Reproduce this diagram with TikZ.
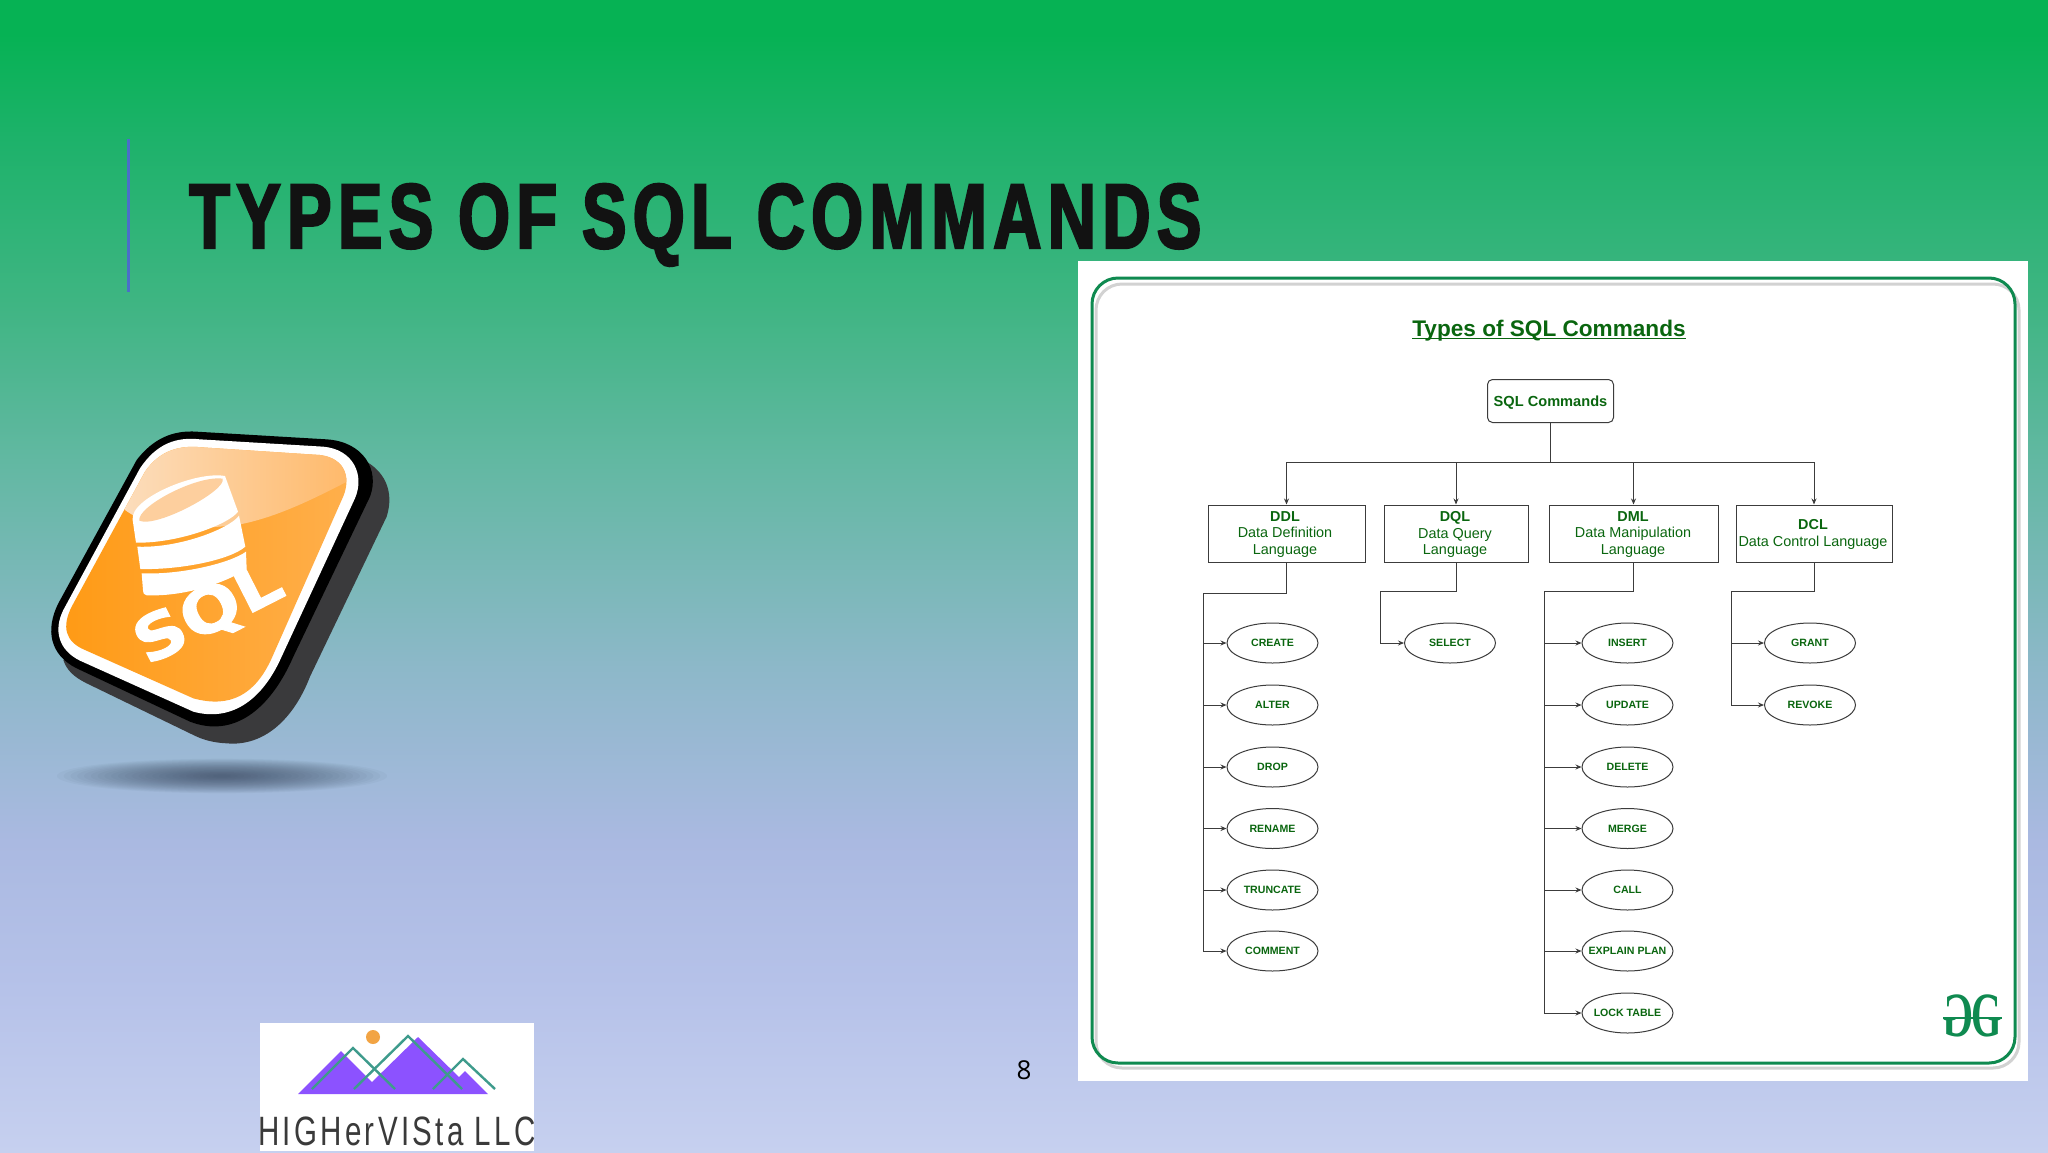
\documentclass[tikz,border=0pt]{standalone}
\usepackage{fontspec}
\setmainfont{Liberation Sans}
\usetikzlibrary{arrows.meta,shapes.geometric,calc}
\newfontfamily\slidetitle[FakeStretch=.725,LetterSpace=6.9,FakeBold=2.5]{Liberation Sans}
\newfontfamily\logofont[FakeStretch=.72,LetterSpace=8]{Liberation Sans}
\newfontfamily\gfgfont{Liberation Serif}
\newfontfamily\iconfont[FakeBold=1.5]{DejaVu Sans}
\newfontfamily\pagefont{Open Sans}
\definecolor{gfgtext}{HTML}{0A660F}
\definecolor{gfgframe}{HTML}{0F8A50}
\definecolor{linecol}{HTML}{3C3C3C}
\definecolor{c1}{HTML}{C6D0EF}
\definecolor{c1b}{HTML}{B6C2E9}
\definecolor{c2}{HTML}{AAB9E1}
\definecolor{c3}{HTML}{8DB8C9}
\definecolor{c4}{HTML}{62B8A2}
\definecolor{c5}{HTML}{3EB582}
\definecolor{c6}{HTML}{1DB26A}
\definecolor{c7}{HTML}{06B254}
\definecolor{accentfix}{HTML}{4A6FC8}
\definecolor{shadowcol}{HTML}{2E3B50}
\definecolor{iconback}{HTML}{3A3A3C}
\definecolor{iconleft}{HTML}{FF9A14}
\definecolor{iconright}{HTML}{FFB04E}
\definecolor{glossleft}{HTML}{FCDDBC}
\definecolor{glossright}{HTML}{FFB765}
\definecolor{glossmid}{HTML}{FDCF9E}
\definecolor{logopurple}{HTML}{8C52FF}
\definecolor{logoteal}{HTML}{3E9B8C}
\definecolor{logosun}{HTML}{F2A444}
\definecolor{logotext}{HTML}{3A3A3A}
\definecolor{framegrey}{HTML}{D2D2D2}
\pgfdeclareverticalshading{slidebg}{100bp}{
 color(0bp)=(c1);color(25bp)=(c1);color(32bp)=(c1b);color(38.5bp)=(c2);color(46bp)=(c3);color(55bp)=(c4);color(62bp)=(c5);color(69bp)=(c6);color(73.5bp)=(c7);color(100bp)=(c7)}
\newcommand{\fs}[1]{\fontsize{#1}{#1}\selectfont}
\newcommand{\ultext}[1]{\setbox0\hbox{#1}\rlap{\copy0}\raisebox{-3.2pt}{\rule{\wd0}{1.7pt}}}
\tikzset{
 conn/.style={draw=linecol,line width=1pt},
 arr/.style={conn,-{Stealth[length=6pt,width=5pt]}},
 catbox/.style={draw=linecol,line width=1pt,fill=white,text=gfgtext,align=center,inner sep=0pt,
   font=\fs{14.4}},
 oval/.style={ellipse,draw=linecol,line width=1pt,fill=white,minimum width=91pt,minimum height=40pt,inner xsep=-14pt,inner ysep=-4pt,
   text=gfgtext,font=\fs{10.6}\bfseries}
}
\begin{document}
\begin{tikzpicture}[x=1pt,y=-1pt]
\useasboundingbox (0,0) rectangle (2048,1152);
\path[shading=slidebg] (0,0) rectangle (2048,1152);
% accent rule and title
\fill[fill=accentfix] (126.5,139) rectangle (130,292);
\node[anchor=base west,inner sep=0pt,text=black!93] (slidetitle) at (189,248) {\slidetitle\fs{92}\bfseries TYPES OF SQL COMMANDS};
% icon shadow
\foreach \k in {1,...,24}{
  \fill[fill=shadowcol,opacity=.04] (222,776) ellipse ({172-6.8*\k} and {18-.7*\k});
}
% icon
\begin{scope}[shift={(30,400)},x=.33333pt,y=-.33333pt]
\fill[fill=iconback] (1000,180) .. controls (1060,210) and (1095,270) .. (1070,350)
  -- (840,830) .. controls (790,960) and (700,1040) .. (590,1030) .. controls (550,1028) and (520,1020) .. (490,1005)
  -- (170,850) .. controls (130,830) and (110,810) .. (100,780) -- cycle;
\fill[black] (500,95) -- (890,118) .. controls (1000,125) and (1050,210) .. (1020,290)
  -- (790,770) .. controls (720,930) and (610,1015) .. (480,965)
  -- (140,805) .. controls (60,765) and (45,690) .. (85,610)
  -- (320,180) .. controls (370,115) and (430,90) .. (500,95) -- cycle;
\fill[white] (510,118) -- (880,140) .. controls (970,148) and (1005,225) .. (975,295)
  -- (748,785) .. controls (690,905) and (600,965) .. (490,935)
  -- (150,782) .. controls (85,750) and (70,690) .. (100,630)
  -- (330,205) .. controls (380,130) and (440,110) .. (510,118) -- cycle;
\begin{scope}
\clip (515,142) -- (870,165) .. controls (950,175) and (965,240) .. (935,300)
  -- (725,775) .. controls (675,885) and (600,925) .. (490,895)
  -- (165,750) .. controls (105,725) and (95,680) .. (125,620)
  -- (345,215) .. controls (390,150) and (450,135) .. (515,142) -- cycle;
\shade[left color=iconleft,right color=iconright] (80,100) rectangle (1000,950);
\shade[left color=glossleft,right color=glossright] (280,120) -- (1000,120) -- (1000,220)
  .. controls (900,270) and (760,350) .. (620,375) .. controls (520,385) and (380,400) .. (285,330) -- cycle;
\end{scope}
% database cylinder
\fill[white] (308,360) .. controls (298,295) and (500,212) .. (585,228) -- (624,335)
  .. controls (600,370) and (450,430) .. (318,428) -- cycle;
\fill[glossmid] (328,362) .. controls (320,320) and (500,225) .. (578,236)
  .. controls (592,270) and (380,385) .. (328,362) -- cycle;
\fill[white] (322,440) .. controls (450,445) and (600,385) .. (627,347) -- (646,440)
  .. controls (600,480) and (450,510) .. (331,507) -- cycle;
\fill[white] (335,520) .. controls (450,525) and (600,490) .. (648,455) -- (650,507)
  .. controls (600,540) and (480,590) .. (350,586) .. controls (342,585) and (340,580) .. (339,570) -- cycle;
\end{scope}
\node[rotate=27,inner sep=0pt,text=white,xscale=1.15,transform shape] (iconlabel) at (209,614) {\iconfont\fs{62}\bfseries SQL};
% logo
\fill[white] (260,1023) rectangle (534,1151);
\fill[fill=logopurple] (298,1094) -- (341,1051) -- (372,1082) -- (418,1037) -- (459,1077) -- (465,1071) -- (488,1094) -- cycle;
\draw[logoteal,line width=2.4pt] (312,1089) -- (353,1048) -- (395,1089);
\draw[logoteal,line width=2.4pt] (354,1089) -- (408,1036) -- (462,1089);
\draw[logoteal,line width=2.4pt] (433,1089) -- (463,1059) -- (495,1089);
\fill[fill=logosun] (373,1037) circle (7);
\node[anchor=base,inner sep=0pt,text=logotext] (logotext) at (397,1145) {\logofont\fs{41}HIGHerVISta LLC};
% page number
\node[inner sep=0pt] (pagenum) at (1024,1070) {\pagefont\fs{26}8};
% panel
\fill[white] (1078,261) rectangle (2028,1081);
\draw[draw=framegrey,line width=3pt,rounded corners=26pt] (1096,284) rectangle (2019,1068);
\draw[draw=gfgframe,line width=3pt,rounded corners=26pt] (1092,278) rectangle (2015,1063);
\node[text=gfgtext,inner sep=0pt,anchor=base] (paneltitle) at (1549,336) {\fs{22.6}\bfseries\ultext{Types of SQL Commands}};
% root and categories
\node[draw=linecol,line width=1pt,rounded corners=5pt,minimum width=126pt,minimum height=43pt,inner sep=0pt,text=gfgtext,font=\fs{14.6}\bfseries,text height=10.5pt,text depth=0pt] (root) at (1550.5,401) {SQL Commands};
\node[catbox,minimum width=157pt,minimum height=57pt] (ddl) at (1286.5,533.5) {};
\node[catbox,minimum width=144pt,minimum height=57pt] (dql) at (1456,533.5) {};
\node[catbox,minimum width=169pt,minimum height=57pt] (dml) at (1633.5,533.5) {};
\node[catbox,minimum width=156pt,minimum height=57pt] (dcl) at (1814,533.5) {};
\node[align=center,inner sep=0pt,text=gfgtext,font=\fs{14.4},anchor=center] (ddltext) at (1285,534.5) {\textbf{DDL}\\[2.5pt]Data Definition\\[2.5pt]Language};
\node[align=center,inner sep=0pt,text=gfgtext,font=\fs{14.4}] (dqltext) at (1455,534.5) {\textbf{DQL}\\[2.5pt]Data Query\\[2.5pt]Language};
\node[align=center,inner sep=0pt,text=gfgtext,font=\fs{14.4}] (dmltext) at (1633,534.5) {\textbf{DML}\\[2.5pt]Data Manipulation\\[2.5pt]Language};
\node[align=center,inner sep=0pt,text=gfgtext,font=\fs{14.4}] (dcltext) at (1813,534.5) {\textbf{DCL}\\[2.5pt]Data Control Language};
% ellipses
\foreach \nm/\lb/\yy in {create/CREATE/643,alter/ALTER/705,drop/DROP/767,rename/RENAME/828.5,truncate/TRUNCATE/890,comment/COMMENT/951}
  \node[oval] (\nm) at (1272.5,\yy) {\lb};
\node[oval] (select) at (1450,643) {SELECT};
\foreach \nm/\lb/\yy in {insert/INSERT/643,update/UPDATE/705,delete/DELETE/767,merge/MERGE/828.5,call/CALL/890,explain/EXPLAIN PLAN/951,lock/LOCK TABLE/1013}
  \node[oval] (\nm) at (1627.5,\yy) {\lb};
\foreach \nm/\lb/\yy in {grant/GRANT/643,revoke/REVOKE/705}
  \node[oval] (\nm) at (1810,\yy) {\lb};
% connectors
\coordinate (bus) at (1550.5,462);
\coordinate (ddlrail) at (1203,593);
\coordinate (dqlrail) at (1380,591);
\coordinate (dmlrail) at (1544,591);
\coordinate (dclrail) at (1731,591);
\draw[conn] (root.south) -- (bus);
\foreach \t in {ddl,dql,dml,dcl} \draw[arr] (bus) -| (\t.north);
\draw[conn] (ddl.south) |- (ddlrail);
\draw[conn] (dql.south) |- (dqlrail);
\draw[conn] (dml.south) |- (dmlrail);
\draw[conn] (dcl.south) |- (dclrail);
\foreach \t in {create,alter,drop,rename,truncate,comment} \draw[arr] (ddlrail) |- (\t.west);
\draw[arr] (dqlrail) |- (select.west);
\foreach \t in {insert,update,delete,merge,call,explain,lock} \draw[arr] (dmlrail) |- (\t.west);
\foreach \t in {grant,revoke} \draw[arr] (dclrail) |- (\t.west);
% gfg logo
\node[inner sep=0pt,text=gfgframe,xscale=.62,transform shape,anchor=base] (gfgright) at (1987,1036) {\gfgfont\fs{63}\bfseries G};
\node[inner sep=0pt,text=gfgframe,xscale=-.62,transform shape,anchor=base] (gfgleft) at (1958,1036) {\gfgfont\fs{63}\bfseries G};
\draw[draw=gfgframe,line width=2pt] (1943,1018) -- (2002,1018);
\end{tikzpicture}
\end{document}
